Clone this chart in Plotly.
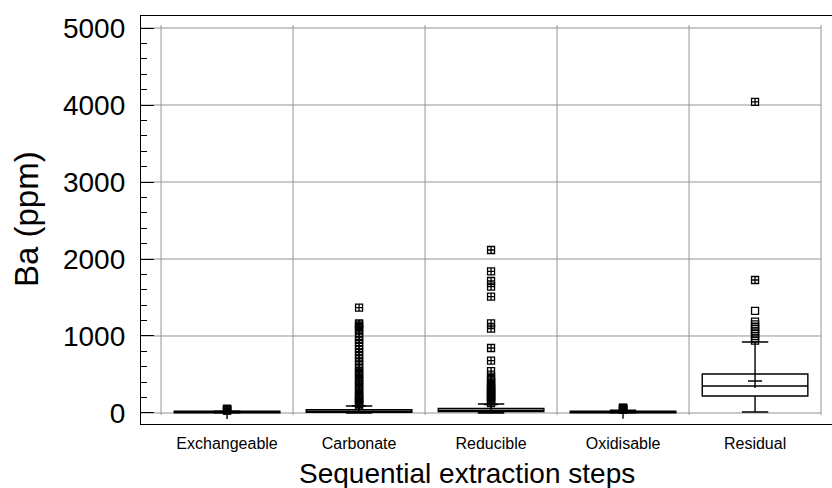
import plotly.graph_objects as go

# ---------------- data ----------------
categories = ["Exchangeable", "Carbonate", "Reducible", "Oxidisable", "Residual"]
lower_fence = [0, 0, 0, 0, 13]
q1 = [2, 8, 18, 3, 221]
median = [6, 20, 35, 10, 350]
q3 = [22, 42, 60, 24, 506]
upper_fence = [28, 90, 117, 35, 922]
mean = [14, 95, 110, 16, 416]

# outside points (open squares)
outside = {
    "Exchangeable": [],
    "Carbonate": [],
    "Reducible": [],
    "Oxidisable": [],
    "Residual": [940, 970, 1000, 1030, 1060, 1090, 1120, 1150, 1186, 1325],
}
# far outside points (squares with plus)
far_outside = {
    "Exchangeable": [30, 35, 40, 45, 50, 55],
    "Carbonate": [100, 120, 140, 160, 180, 200, 225, 250, 280, 310, 340, 370, 400,
                  430, 460, 490, 520, 550, 590, 630, 670, 710, 750, 790, 830, 870,
                  910, 950, 990, 1030, 1070, 1100, 1130, 1150, 1165, 1368],
    "Reducible": [130, 150, 170, 190, 210, 230, 250, 270, 290, 310, 330, 350, 380,
                  410, 440, 471, 545, 680, 844, 1095, 1165, 1511, 1640, 1714, 1840, 2117],
    "Oxidisable": [40, 45, 50, 55, 60, 65, 70],
    "Residual": [1727, 4040],
}

y_ticks = [0, 1000, 2000, 3000, 4000, 5000]
x_title = "Sequential extraction steps"
y_title = "Ba (ppm)"

FONT = "Arial, 'Liberation Sans', sans-serif"
GRID = "#959595"

fig = go.Figure()

for i, c in enumerate(categories):
    fig.add_trace(go.Box(
        x=[c], q1=[q1[i]], median=[median[i]], q3=[q3[i]],
        lowerfence=[lower_fence[i]], upperfence=[upper_fence[i]],
        boxpoints=False, width=0.8, whiskerwidth=0.25,
        fillcolor="white", line=dict(color="black", width=1.4),
        showlegend=False, hoverinfo="skip",
    ))

# outliers
for c in categories:
    if outside[c]:
        fig.add_trace(go.Scatter(
            x=[c] * len(outside[c]), y=outside[c], mode="markers",
            marker=dict(symbol="square-open", size=7, color="black",
                        line=dict(color="black", width=1.3)),
            showlegend=False, hoverinfo="skip"))
    if far_outside[c]:
        fig.add_trace(go.Scatter(
            x=[c] * len(far_outside[c]), y=far_outside[c], mode="markers",
            marker=dict(symbol="square-cross-open", size=7, color="black",
                        line=dict(color="black", width=1.3)),
            showlegend=False, hoverinfo="skip"))

# means
fig.add_trace(go.Scatter(
    x=categories, y=mean, mode="markers",
    marker=dict(symbol="cross-thin-open", size=10, color="black",
                line=dict(color="black", width=1.4)),
    showlegend=False, hoverinfo="skip"))

# grid shapes
shapes = []
for k in range(len(categories) + 1):
    xb = k - 0.5
    shapes.append(dict(type="line", xref="x", yref="y", x0=xb, x1=xb,
                       y0=-26, y1=5039, line=dict(color=GRID, width=1), layer="below"))
for t in y_ticks:
    shapes.append(dict(type="line", xref="paper", yref="y", x0=0, x1=(4.5 + 0.652) / 5.235,
                       y0=t, y1=t, line=dict(color=GRID, width=1), layer="below"))

annotations = [
    dict(text=x_title, xref="paper", yref="paper", x=(467 - 141) / 691, y=(424 - 473) / 408,
         xanchor="center", yanchor="middle", showarrow=False,
         font=dict(family=FONT, size=28, color="black")),
    dict(text=y_title, xref="paper", yref="paper", x=(26 - 141) / 691, y=(424 - 219) / 408,
         xanchor="center", yanchor="middle", showarrow=False, textangle=-90,
         font=dict(family=FONT, size=33, color="black")),
]

fig.update_layout(
    width=832, height=488,
    margin=dict(l=141, r=0, t=16, b=64),
    paper_bgcolor="white", plot_bgcolor="white",
    font=dict(family=FONT, color="black"),
    shapes=shapes, annotations=annotations,
    xaxis=dict(
        type="category", categoryorder="array", categoryarray=categories,
        range=[-0.652, 4.583], showgrid=False, zeroline=False,
        showline=True, linecolor="black", linewidth=1.3, mirror=True,
        ticks="", ticklabelstandoff=5,
        tickfont=dict(family=FONT, size=16, color="black"),
    ),
    yaxis=dict(
        range=[-143, 5156], tickvals=y_ticks, ticktext=[str(v) for v in y_ticks],
        showgrid=False, zeroline=False,
        showline=True, linecolor="black", linewidth=1.3,
        ticks="inside", ticklen=13, tickcolor="black", tickwidth=1.3,
        ticklabelstandoff=9,
        tickfont=dict(family=FONT, size=28, color="black"),
        minor=dict(ticks="inside", ticklen=6, dtick=200, tick0=0,
                   tickcolor="black", tickwidth=1.3, showgrid=False),
    ),
    yaxis2=dict(
        overlaying="y", side="right", range=[-143, 5156], tickvals=y_ticks,
        showticklabels=False, showgrid=False, zeroline=False, showline=False,
        ticks="inside", ticklen=4, tickcolor="black", tickwidth=1.3,
    ),
)

fig.write_html("out.html")
